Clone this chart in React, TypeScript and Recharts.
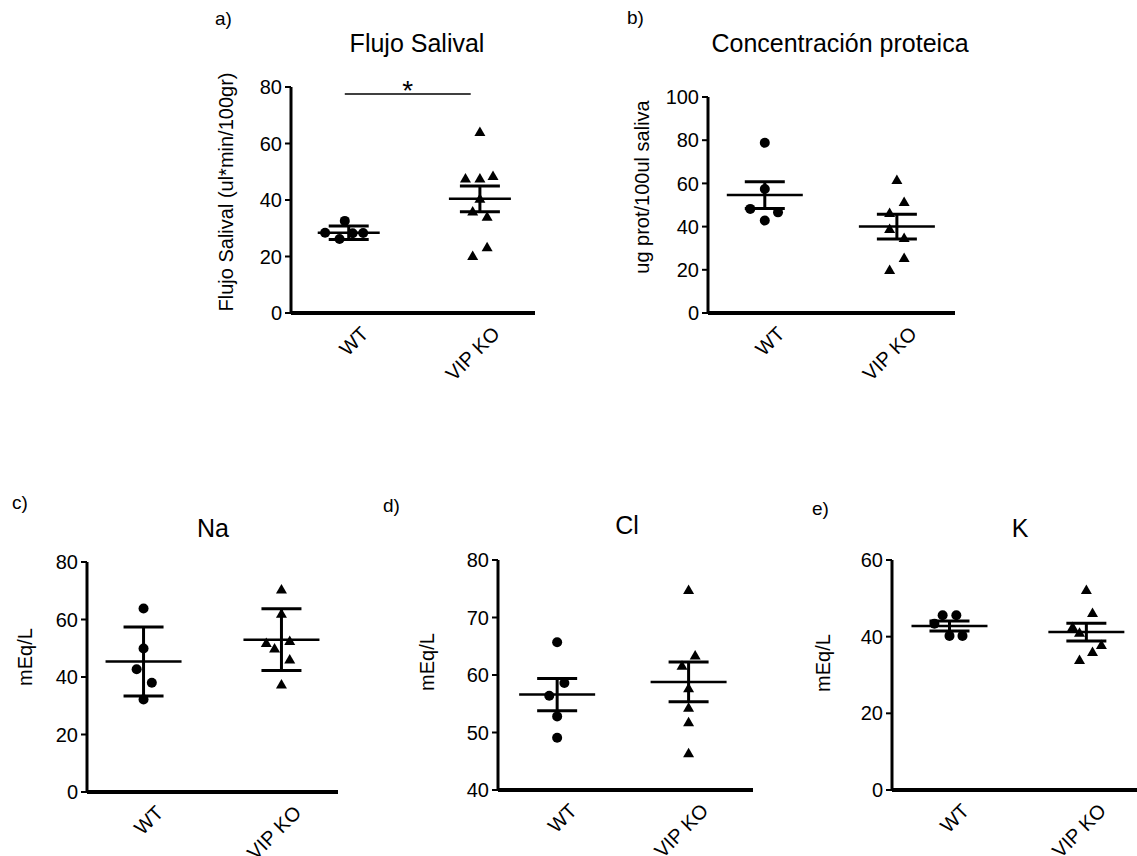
import { ScatterChart, Scatter, XAxis, YAxis, ErrorBar, ReferenceLine } from 'recharts'

const FONT = '"Liberation Sans", Arial, Helvetica, sans-serif'
const groups = ['WT', 'VIP KO']

// a) Flujo salival (ul*min/100gr)
const flujoWT = [32.6, 28.4, 28.3, 28.2, 26.2]
const flujoWTSpread = [-0.03, -0.18, 0.11, 0.03, -0.07]
const flujoKO = [64.1, 47.6, 47.6, 48.5, 40.4, 35.9, 34.1, 23.3, 20.2]
const flujoKOSpread = [0, -0.11, 0, 0.1, 0, -0.055, 0.055, 0.055, -0.055]
const flujoMean = [28.4, 40.4]
const flujoSem = [2.4, 4.6]
const flujoTicks = [0, 20, 40, 60, 80]
const flujoSigLevel = 77.5

// b) Concentracion proteica (ug prot/100ul saliva)
const protWT = [78.8, 57.4, 48.2, 46.6, 42.8]
const protWTSpread = [0, 0, -0.11, 0.1, 0]
const protKO = [61.6, 51.4, 46.3, 38.9, 34.7, 25.5, 19.9]
const protKOSpread = [0, 0.055, -0.055, -0.055, 0.055, 0.055, -0.055]
const protMean = [54.6, 40.0]
const protSem = [6.2, 5.7]
const protTicks = [0, 20, 40, 60, 80, 100]

// c) Na (mEq/L)
const naWT = [63.8, 49.9, 42.7, 38.0, 32.2]
const naWTSpread = [0, 0, -0.05, 0.06, 0]
const naKO = [70.4, 62.0, 51.8, 49.9, 52.5, 46.1, 37.4]
const naKOSpread = [0, 0, -0.11, -0.05, 0.06, 0.06, 0]
const naMean = [45.4, 53.0]
const naSem = [12.0, 10.7]
const naTicks = [0, 20, 40, 60, 80]

// d) Cl (mEq/L)
const clWT = [65.7, 58.6, 56.4, 52.8, 49.1]
const clWTSpread = [0, 0.055, -0.06, 0, 0]
const clKO = [74.8, 63.4, 61.6, 57.7, 54.3, 51.8, 46.4]
const clKOSpread = [0, 0.05, -0.05, 0, 0, 0, 0]
const clMean = [56.6, 58.8]
const clSem = [2.8, 3.45]
const clTicks = [40, 50, 60, 70, 80]

// e) K (mEq/L)
const kWT = [45.6, 45.6, 43.4, 40.2, 40.2]
const kWTSpread = [-0.05, 0.05, -0.11, 0, 0.095]
const kKO = [52.2, 46.2, 42.5, 41.0, 37.8, 36.0, 33.9]
const kKOSpread = [0, 0.045, -0.1, -0.05, 0.11, 0.045, -0.05]
const kMean = [42.8, 41.2]
const kSem = [1.3, 2.3]
const kTicks = [0, 20, 40, 60]

const Dot = (p: any) => <circle cx={p.cx} cy={p.cy} r={5} fill="#000" />
const Tri = (p: any) => (
  <polygon
    points={`${p.cx},${p.cy - 5.5} ${p.cx + 5.5},${p.cy + 4} ${p.cx - 5.5},${p.cy + 4}`}
    fill="#000"
  />
)
const meanLine = (half: number) => (p: any) => (
  <line x1={p.cx - half} x2={p.cx + half} y1={p.cy} y2={p.cy} stroke="#000" strokeWidth={2.5} />
)

function GroupTick({ x, y, payload }: any) {
  const tx = x + 21
  const ty = y + 22
  return (
    <text
      x={tx}
      y={ty}
      transform={`rotate(-45 ${tx} ${ty})`}
      textAnchor="end"
      fontSize={20}
      fontFamily={FONT}
      fill="#000"
    >
      {groups[Math.round(payload.value) - 1]}
    </text>
  )
}

interface PanelProps {
  left: number
  top: number
  width: number
  height: number
  xDomain: [number, number]
  yTicks: number[]
  wt: number[]
  wtSpread: number[]
  ko: number[]
  koSpread: number[]
  mean: number[]
  sem: number[]
  half?: number
  sig?: number
}

const Y_W = 60
const X_H = 100
const M_TOP = 20

function Panel({ left, top, width, height, xDomain, yTicks, wt, wtSpread, ko, koSpread, mean, sem, half = 38, sig }: PanelProps) {
  const wtData = wt.map((v, i) => ({ x: 1 + wtSpread[i], y: v }))
  const koData = ko.map((v, i) => ({ x: 2 + koSpread[i], y: v }))
  const summary = mean.map((m, i) => ({ x: i + 1, y: m, sem: sem[i] }))
  return (
    <div style={{ position: 'absolute', left: left - Y_W, top: top - M_TOP }}>
      <ScatterChart
        width={Y_W + width}
        height={M_TOP + height + X_H}
        margin={{ top: M_TOP, right: 0, bottom: 0, left: 0 }}
      >
        <XAxis
          type="number"
          dataKey="x"
          domain={xDomain}
          ticks={[1, 2]}
          allowDataOverflow
          height={X_H}
          axisLine={{ stroke: '#000', strokeWidth: 4 }}
          tickLine={false}
          tickSize={0}
          tickMargin={0}
          tick={<GroupTick />}
        />
        <YAxis
          type="number"
          dataKey="y"
          domain={[yTicks[0], yTicks[yTicks.length - 1]]}
          ticks={yTicks}
          width={Y_W}
          axisLine={{ stroke: '#000', strokeWidth: 3 }}
          tickLine={{ stroke: '#000', strokeWidth: 2 }}
          tickSize={6}
          tickMargin={3}
          tick={{ fill: '#000', fontSize: 20, fontFamily: FONT }}
        />
        {sig !== undefined && (
          <ReferenceLine
            segment={[{ x: 0.97, y: sig }, { x: 1.93, y: sig }]}
            stroke="#000"
            strokeWidth={1.5}
            label={{ value: '*', position: 'top', fontSize: 28, fill: '#000', fontFamily: FONT, offset: -6 }}
          />
        )}
        <Scatter data={wtData} shape={Dot} isAnimationActive={false} />
        <Scatter data={koData} shape={Tri} isAnimationActive={false} />
        <Scatter data={summary} shape={meanLine(half)} isAnimationActive={false}>
          <ErrorBar dataKey="sem" direction="y" width={20} stroke="#000" strokeWidth={3} />
        </Scatter>
      </ScatterChart>
    </div>
  )
}

function Txt({ x, y, size, children, rotate, align = 'center' }: any) {
  const tx = align === 'center' ? '-50%' : '0'
  return (
    <div
      style={{
        position: 'absolute',
        left: x,
        top: y,
        transform: `translate(${tx},-50%)${rotate ? ' rotate(-90deg)' : ''}`,
        fontSize: size,
        lineHeight: 1,
        whiteSpace: 'nowrap',
        fontFamily: FONT,
        color: '#000',
      }}
    >
      {children}
    </div>
  )
}

export default function App() {
  return (
    <div
      style={{
        position: 'absolute',
        left: 0,
        top: 0,
        width: 1137,
        height: 856,
        overflow: 'hidden',
        background: '#fff',
      }}
    >
      <Panel left={291} top={87} width={244} height={226} xDomain={[0.56, 2.42]} yTicks={flujoTicks}
        wt={flujoWT} wtSpread={flujoWTSpread} ko={flujoKO} koSpread={flujoKOSpread}
        mean={flujoMean} sem={flujoSem} half={31} sig={flujoSigLevel} />
      <Panel left={708} top={97} width={247} height={216} xDomain={[0.57, 2.44]} yTicks={protTicks}
        wt={protWT} wtSpread={protWTSpread} ko={protKO} koSpread={protKOSpread}
        mean={protMean} sem={protSem} />
      <Panel left={87} top={562} width={251} height={230} xDomain={[0.59, 2.41]} yTicks={naTicks}
        wt={naWT} wtSpread={naWTSpread} ko={naKO} koSpread={naKOSpread}
        mean={naMean} sem={naSem} />
      <Panel left={498} top={560} width={255} height={230} xDomain={[0.55, 2.49]} yTicks={clTicks}
        wt={clWT} wtSpread={clWTSpread} ko={clKO} koSpread={clKOSpread}
        mean={clMean} sem={clSem} />
      <Panel left={892} top={560} width={245} height={230} xDomain={[0.58, 2.37]} yTicks={kTicks}
        wt={kWT} wtSpread={kWTSpread} ko={kKO} koSpread={kKOSpread}
        mean={kMean} sem={kSem} />

      <Txt x={215} y={18} size={19} align="left">a)</Txt>
      <Txt x={627} y={17} size={19} align="left">b)</Txt>
      <Txt x={12} y={502} size={19} align="left">c)</Txt>
      <Txt x={383} y={505} size={19} align="left">d)</Txt>
      <Txt x={812} y={508} size={19} align="left">e)</Txt>

      <Txt x={417} y={43} size={25}>Flujo Salival</Txt>
      <Txt x={840} y={43} size={25}>Concentración proteica</Txt>
      <Txt x={213} y={528} size={25}>Na</Txt>
      <Txt x={627} y={525} size={25}>Cl</Txt>
      <Txt x={1020} y={528} size={25}>K</Txt>

      <Txt x={226} y={192} size={20} rotate>Flujo Salival (ul*min/100gr)</Txt>
      <Txt x={642} y={187} size={20} rotate>ug prot/100ul saliva</Txt>
      <Txt x={25} y={657} size={20} rotate>mEq/L</Txt>
      <Txt x={427} y={662} size={20} rotate>mEq/L</Txt>
      <Txt x={823} y={663} size={20} rotate>mEq/L</Txt>
    </div>
  )
}
